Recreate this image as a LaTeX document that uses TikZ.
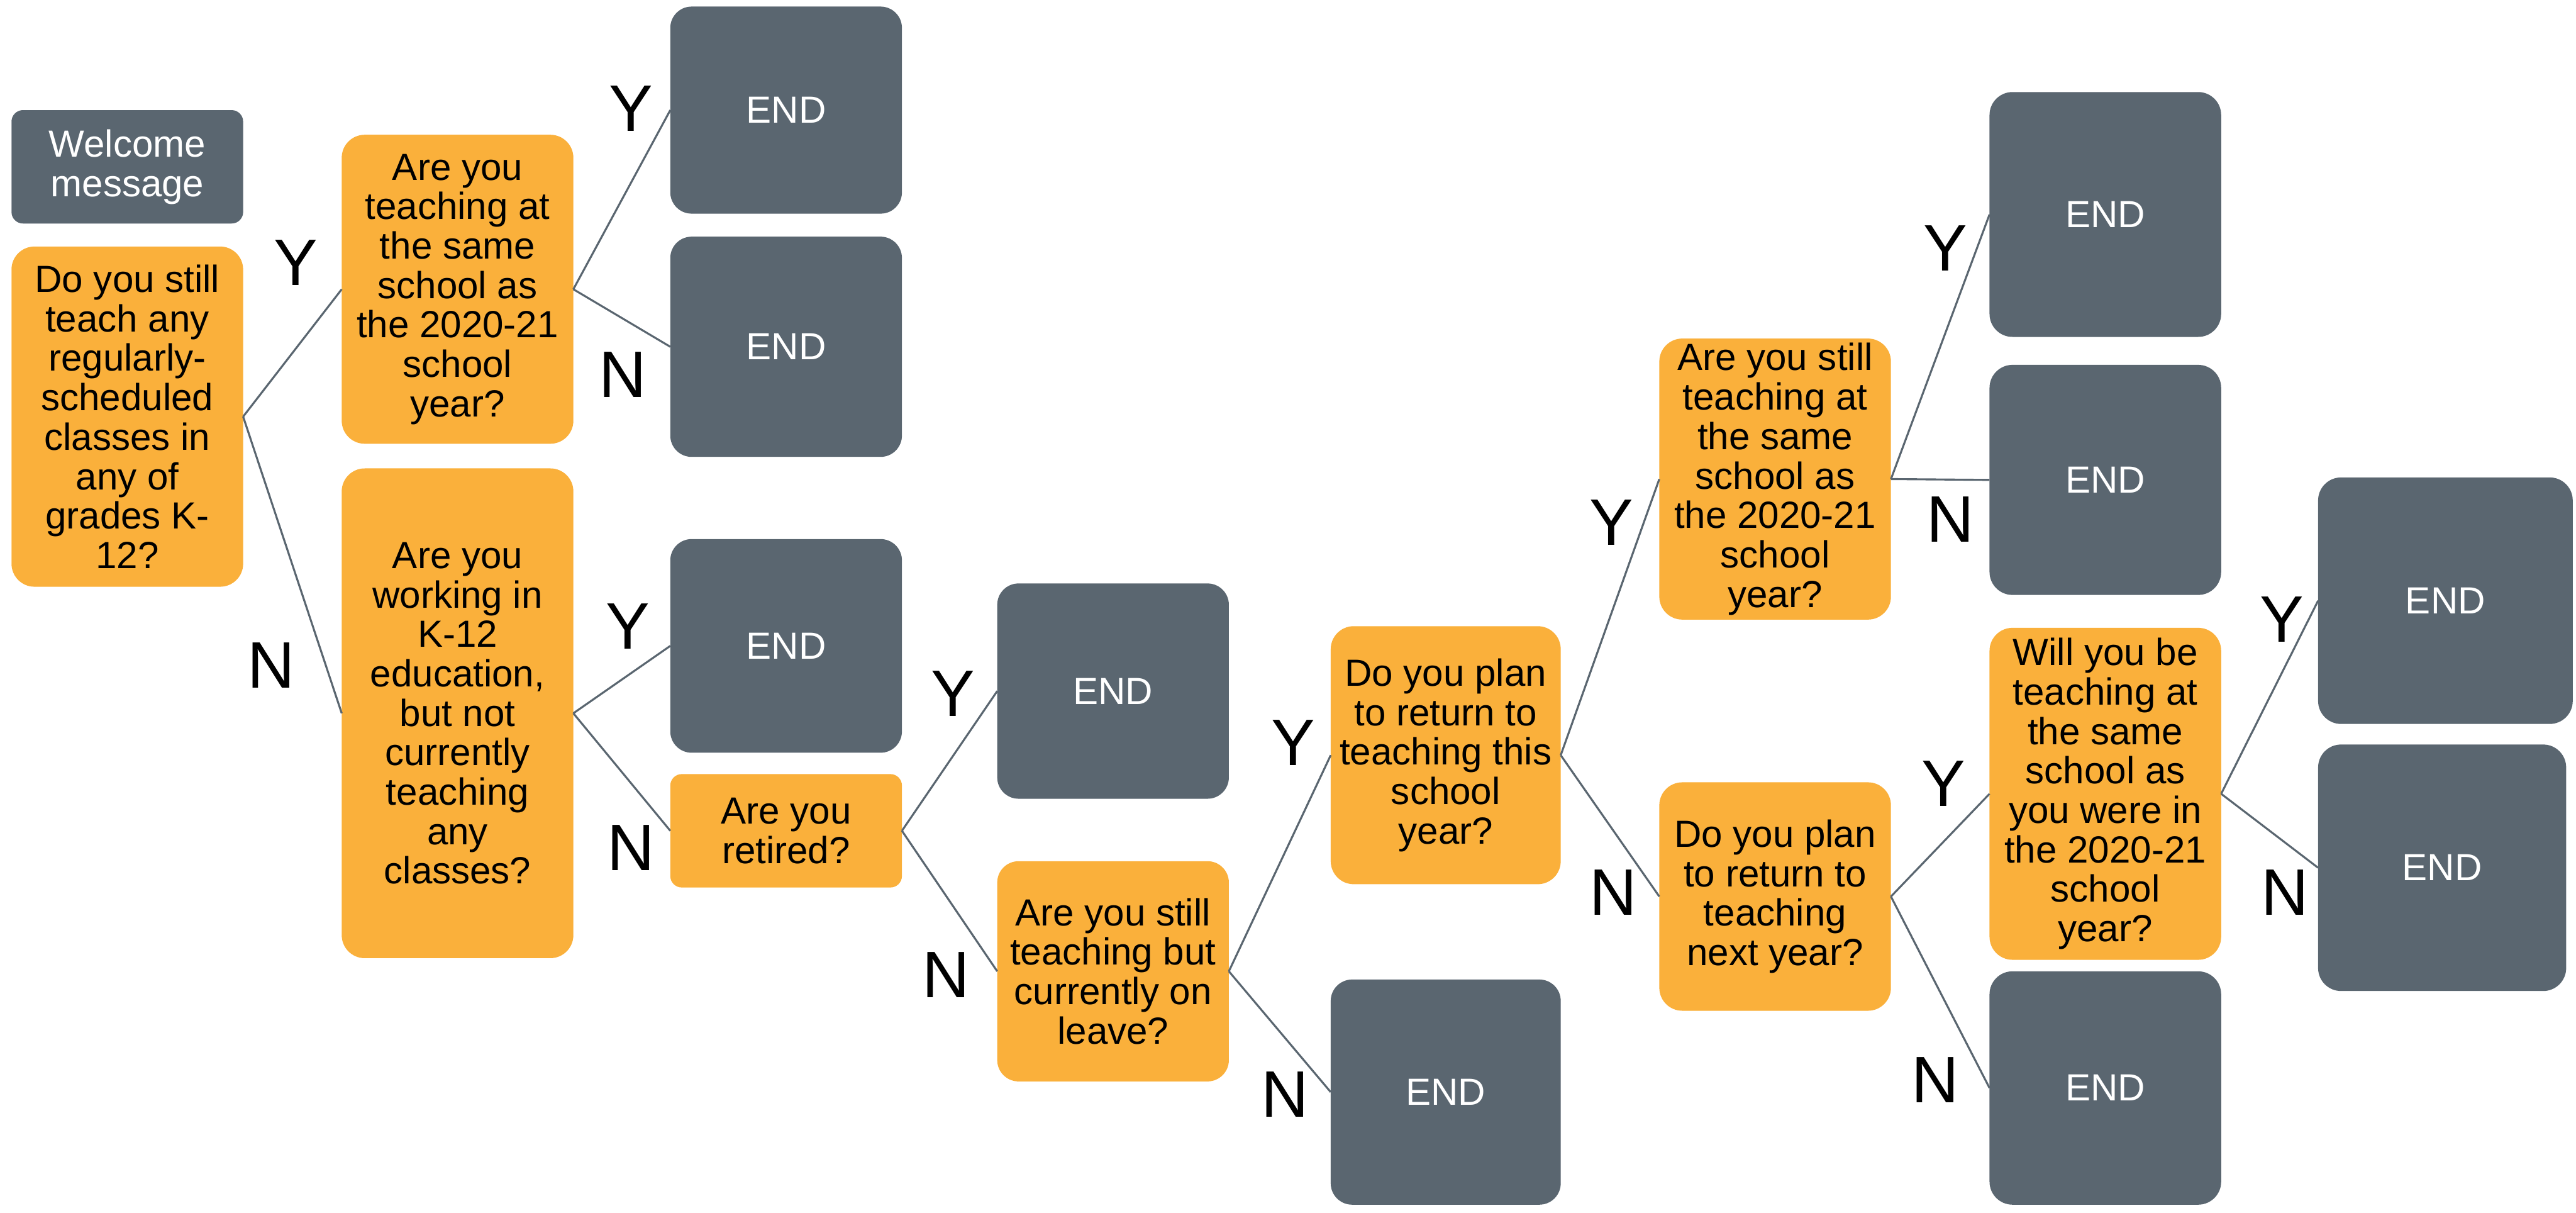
\documentclass[tikz,border=0pt]{standalone}
\usepackage{fontspec}
\setmainfont{Liberation Sans}
\definecolor{qorange}{RGB}{250,176,59}
\definecolor{egrey}{RGB}{90,102,112}
\tikzset{
  basebox/.style={inner sep=0pt, outer sep=0pt, align=center, font=\fontsize{23}{24}\selectfont},
  qbox/.style={basebox, fill=qorange, text=black},
  ebox/.style={basebox, fill=egrey, text=white},
  lab/.style={font=\fontsize{40}{40}\selectfont, inner sep=0pt, text=black},
  conn/.style={draw=egrey, line width=1.2pt}
}
\begin{document}
\begin{tikzpicture}[x=1pt,y=-1pt]
\useasboundingbox (0,0) rectangle (1568,738);
% boxes
\node[ebox, minimum width=141pt, minimum height=69pt, rounded corners=7pt] (welcome) at (77.5,101.5) {Welcome\\message};
\node[qbox, minimum width=141pt, minimum height=207pt, rounded corners=14pt] (q1) at (77.5,253.5) {Do you still\\teach any\\regularly-\\scheduled\\classes in\\any of\\grades K-\\12?};
\node[qbox, minimum width=141pt, minimum height=188pt, rounded corners=14pt] (q2) at (278.5,176) {Are you\\teaching at\\the same\\school as\\the 2020-21\\school\\year?};
\node[ebox, minimum width=141pt, minimum height=126pt, rounded corners=13pt] (end1) at (478.5,67) {END};
\node[ebox, minimum width=141pt, minimum height=134pt, rounded corners=13pt] (end2) at (478.5,211) {END};
\node[qbox, minimum width=141pt, minimum height=298pt, rounded corners=14pt] (q3) at (278.5,434) {Are you\\working in\\K-12\\education,\\but not\\currently\\teaching\\any\\classes?};
\node[ebox, minimum width=141pt, minimum height=130pt, rounded corners=13pt] (end3) at (478.5,393) {END};
\node[qbox, minimum width=141pt, minimum height=69pt, rounded corners=7pt] (q4) at (478.5,505.5) {Are you\\retired?};
\node[ebox, minimum width=141pt, minimum height=131pt, rounded corners=13pt] (end4) at (677.5,420.5) {END};
\node[qbox, minimum width=141pt, minimum height=134pt, rounded corners=13pt] (q5) at (677.5,591) {Are you still\\teaching but\\currently on\\leave?};
\node[qbox, minimum width=140pt, minimum height=157pt, rounded corners=14pt] (q6) at (880,459.5) {Do you plan\\to return to\\teaching this\\school\\year?};
\node[ebox, minimum width=140pt, minimum height=137pt, rounded corners=13pt] (end5) at (880,664.5) {END};
\node[qbox, minimum width=141pt, minimum height=171pt, rounded corners=14pt] (q7) at (1080.5,291.5) {Are you still\\teaching at\\the same\\school as\\the 2020-21\\school\\year?};
\node[ebox, minimum width=141pt, minimum height=149pt, rounded corners=14pt] (end6) at (1281.5,130.5) {END};
\node[ebox, minimum width=141pt, minimum height=140pt, rounded corners=14pt] (end7) at (1281.5,292) {END};
\node[qbox, minimum width=141pt, minimum height=139pt, rounded corners=14pt] (q8) at (1080.5,545.5) {Do you plan\\to return to\\teaching\\next year?};
\node[qbox, minimum width=141pt, minimum height=202pt, rounded corners=14pt] (q9) at (1281.5,483) {Will you be\\teaching at\\the same\\school as\\you were in\\the 2020-21\\school\\year?};
\node[ebox, minimum width=141pt, minimum height=142pt, rounded corners=14pt] (end8) at (1281.5,662) {END};
\node[ebox, minimum width=155pt, minimum height=150pt, rounded corners=14pt] (end9) at (1488.5,365.5) {END};
\node[ebox, minimum width=151pt, minimum height=150pt, rounded corners=14pt] (end10) at (1486.5,528) {END};
% connectors
\draw[conn] (q1.east) -- (q2.west);
\draw[conn] (q1.east) -- (q3.west);
\draw[conn] (q2.east) -- (end1.west);
\draw[conn] (q2.east) -- (end2.west);
\draw[conn] (q3.east) -- (end3.west);
\draw[conn] (q3.east) -- (q4.west);
\draw[conn] (q4.east) -- (end4.west);
\draw[conn] (q4.east) -- (q5.west);
\draw[conn] (q5.east) -- (q6.west);
\draw[conn] (q5.east) -- (end5.west);
\draw[conn] (q6.east) -- (q7.west);
\draw[conn] (q6.east) -- (q8.west);
\draw[conn] (q7.east) -- (end6.west);
\draw[conn] (q7.east) -- (end7.west);
\draw[conn] (q8.east) -- (q9.west);
\draw[conn] (q8.east) -- (end8.west);
\draw[conn] (q9.east) -- (end9.west);
\draw[conn] (q9.east) -- (end10.west);
% labels
\node[lab] (y1) at (180,160) {Y};
\node[lab] (n1) at (165,405) {N};
\node[lab] (y2) at (384,66) {Y};
\node[lab] (n2) at (379,228) {N};
\node[lab] (y3) at (382,381) {Y};
\node[lab] (n3) at (384,516) {N};
\node[lab] (y4) at (580,422) {Y};
\node[lab] (n4) at (576,593) {N};
\node[lab] (y5) at (787,452) {Y};
\node[lab] (n5) at (782,666) {N};
\node[lab] (y6) at (981,318) {Y};
\node[lab] (n6) at (982,543) {N};
\node[lab] (y7) at (1184,151) {Y};
\node[lab] (n7) at (1187,316) {N};
\node[lab] (y8) at (1183,477) {Y};
\node[lab] (n8) at (1178,657) {N};
\node[lab] (y9) at (1389,377) {Y};
\node[lab] (n9) at (1391,543) {N};
\end{tikzpicture}
\end{document}
